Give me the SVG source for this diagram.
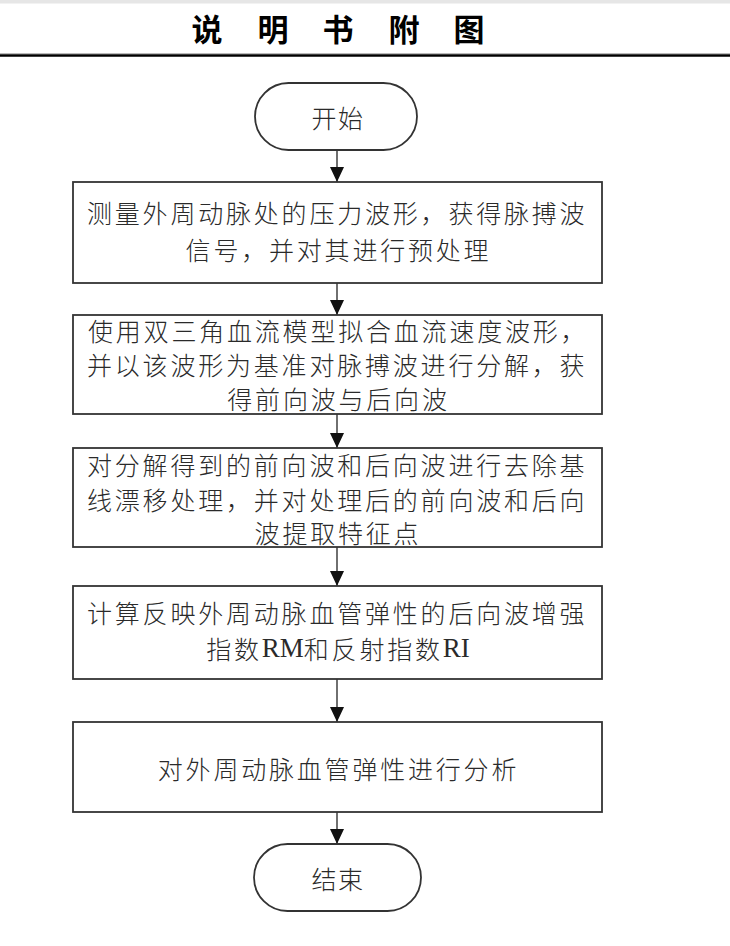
<svg xmlns="http://www.w3.org/2000/svg" width="730" height="946" viewBox="0 0 730 946">
<style>
.box{fill:#fff;stroke:#333;stroke-width:1.8}
.t{font-family:"Noto Sans CJK SC","Noto Sans CJK JP",sans-serif;font-size:25px;font-weight:300;fill:#2a2a2a;letter-spacing:2.8px;dominant-baseline:central}
.c{text-anchor:middle}
.lat{font-family:"Liberation Serif",serif;font-size:27px;font-weight:normal;letter-spacing:0}
.title{font-family:"Noto Sans CJK SC",sans-serif;font-size:31px;font-weight:bold;fill:#000;text-anchor:middle;dominant-baseline:central}
.conn{stroke:#333;stroke-width:1.4;fill:none}
</style>
<defs>
<marker id="ah" markerUnits="userSpaceOnUse" markerWidth="16" markerHeight="16" viewBox="0 0 16 16" refX="15" refY="8" orient="auto">
<path d="M0,1 L15,8 L0,15 Z" fill="#111"/>
</marker>
</defs>
<rect x="0" y="0" width="730" height="946" fill="#fff"/>
<rect x="0" y="0" width="730" height="3.5" fill="#e6e6e6"/>
<g id="header">
<text class="title" x="207 273 338 404 469" y="27.5">说明书附图</text>
<line x1="0" y1="53.5" x2="730" y2="53.5" stroke="#bbb" stroke-width="1"/>
<line x1="0" y1="55.5" x2="730" y2="55.5" stroke="#000" stroke-width="2.4"/>
</g>
<g id="connectors">
<line class="conn" x1="337" y1="150" x2="337" y2="182" marker-end="url(#ah)"/>
<line class="conn" x1="337" y1="283" x2="337" y2="315" marker-end="url(#ah)"/>
<line class="conn" x1="337" y1="414" x2="337" y2="448" marker-end="url(#ah)"/>
<line class="conn" x1="337" y1="547" x2="337" y2="586" marker-end="url(#ah)"/>
<line class="conn" x1="337" y1="679" x2="337" y2="722" marker-end="url(#ah)"/>
<line class="conn" x1="337" y1="812" x2="337" y2="844" marker-end="url(#ah)"/>
</g>
<g id="start">
<rect class="box" x="255" y="83" width="162" height="67" rx="33.5" ry="33.5"/>
<text class="t c" x="338" y="116.5" style="font-size:25px;letter-spacing:1.5px">开始</text>
</g>
<g id="step1">
<rect class="box" x="73" y="182" width="529" height="101"/>
<text class="t" x="87" y="211.5">测量外周动脉处的压力波形，获得脉搏波</text>
<text class="t c" x="338.5" y="248.5">信号，并对其进行预处理</text>
</g>
<g id="step2">
<rect class="box" x="73" y="315" width="529" height="99"/>
<text class="t" x="88" y="330">使用双三角血流模型拟合血流速度波形，</text>
<text class="t" x="87" y="363.5">并以该波形为基准对脉搏波进行分解，获</text>
<text class="t c" x="338.5" y="397.5">得前向波与后向波</text>
</g>
<g id="step3">
<rect class="box" x="73" y="448" width="529" height="99"/>
<text class="t" x="87" y="464">对分解得到的前向波和后向波进行去除基</text>
<text class="t" x="87" y="499">线漂移处理，并对处理后的前向波和后向</text>
<text class="t c" x="338" y="532">波提取特征点</text>
</g>
<g id="step4">
<rect class="box" x="73" y="586" width="529" height="93"/>
<text class="t" x="87" y="611.5">计算反映外周动脉血管弹性的后向波增强</text>
<text class="t c" x="338" y="647.5">指数<tspan class="lat">RM</tspan>和反射指数<tspan class="lat">RI</tspan></text>
</g>
<g id="step5">
<rect class="box" x="73" y="722" width="529" height="90"/>
<text class="t c" x="338.5" y="768">对外周动脉血管弹性进行分析</text>
</g>
<g id="end">
<rect class="box" x="254" y="844" width="167" height="67" rx="33.5" ry="33.5"/>
<text class="t c" x="338" y="877.5" style="font-size:25px;letter-spacing:1.5px">结束</text>
</g>
</svg>
